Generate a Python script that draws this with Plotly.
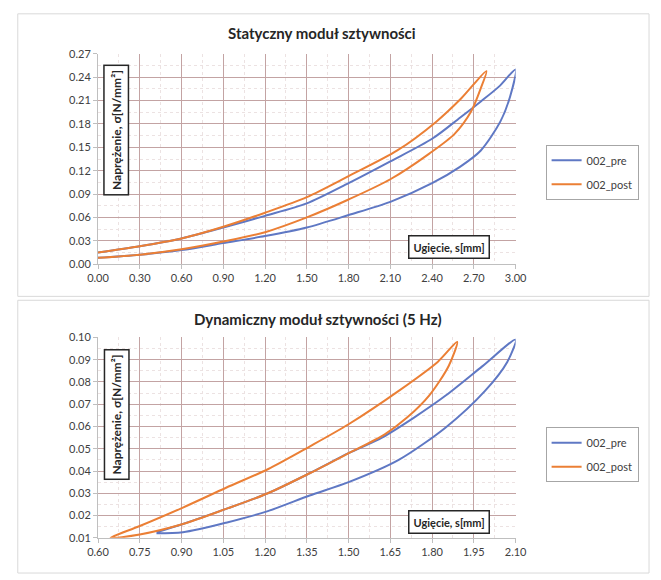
import plotly.graph_objects as go

# ---------------- data ----------------
# Static test (top chart): hysteresis loops, x = deflection s [mm], y = stress [N/mm2]
stat_pre_x = [0.00, 0.30, 0.60, 0.90, 1.20, 1.50, 1.80, 2.10, 2.40, 2.60, 2.75, 2.89, 2.96, 3.00,
              2.88, 2.75, 2.60, 2.40, 2.10, 1.80, 1.50, 1.20, 0.90, 0.60, 0.30, 0.00]
stat_pre_y = [0.008, 0.012, 0.018, 0.027, 0.036, 0.047, 0.063, 0.080, 0.104, 0.125, 0.146, 0.183, 0.215, 0.250,
              0.228, 0.209, 0.188, 0.161, 0.132, 0.104, 0.078, 0.062, 0.047, 0.033, 0.023, 0.015]

stat_post_x = [0.00, 0.30, 0.60, 0.90, 1.20, 1.50, 1.80, 2.10, 2.38, 2.56, 2.68, 2.75, 2.79,
               2.61, 2.43, 2.15, 1.80, 1.50, 1.20, 0.90, 0.60, 0.30, 0.00]
stat_post_y = [0.008, 0.012, 0.019, 0.029, 0.041, 0.060, 0.083, 0.109, 0.142, 0.167, 0.196, 0.226, 0.248,
               0.213, 0.183, 0.146, 0.113, 0.086, 0.066, 0.048, 0.033, 0.023, 0.015]

# Dynamic test 5 Hz (bottom chart)
dyn_pre_x = [0.81, 0.905, 1.06, 1.21, 1.36, 1.50, 1.68, 1.85, 1.99, 2.07, 2.10,
             1.98, 1.85, 1.735, 1.62, 1.50, 1.36, 1.21, 1.06, 0.905, 0.81]
dyn_pre_y = [0.012, 0.0125, 0.0168, 0.022, 0.029, 0.035, 0.045, 0.0597, 0.076, 0.089, 0.099,
             0.087, 0.074, 0.064, 0.055, 0.048, 0.039, 0.030, 0.023, 0.0162, 0.0125]

dyn_post_x = [0.645, 0.75, 0.905, 1.06, 1.21, 1.36, 1.50, 1.68, 1.82, 1.89,
              1.86, 1.79, 1.71, 1.63, 1.50, 1.36, 1.21, 1.06, 0.905, 0.75, 0.645]
dyn_post_y = [0.010, 0.0153, 0.0236, 0.0325, 0.0408, 0.051, 0.061, 0.076, 0.089, 0.098,
              0.0873, 0.074, 0.064, 0.0565, 0.048, 0.039, 0.030, 0.023, 0.0162, 0.0115, 0.010]

series_names = ["002_pre", "002_post"]
titles = ["Statyczny moduł sztywności", "Dynamiczny moduł sztywności (5 Hz)"]
y_label = "Naprężenie, σ[N/mm²]"
x_label = "Ugięcie, s[mm]"

# ---------------- styling ----------------
W, H = 661, 580
BLUE = "#5f78c4"
ORANGE = "#eb7f35"
GRID = "#c3a3a3"
MINOR = "#ece2e2"
FONT = "Lato"
TICKC = "#404040"


def px(x):
    return x / W


def py(y):
    return 1 - y / H


fig = go.Figure()

fig.add_trace(go.Scatter(x=stat_pre_x, y=stat_pre_y, name=series_names[0], mode="lines",
                         line=dict(color=BLUE, width=2, shape="spline", smoothing=0.8),
                         xaxis="x", yaxis="y", legend="legend", legendgroup="a"))
fig.add_trace(go.Scatter(x=stat_post_x, y=stat_post_y, name=series_names[1], mode="lines",
                         line=dict(color=ORANGE, width=2, shape="spline", smoothing=0.8),
                         xaxis="x", yaxis="y", legend="legend", legendgroup="b"))
fig.add_trace(go.Scatter(x=dyn_pre_x, y=dyn_pre_y, name=series_names[0], mode="lines",
                         line=dict(color=BLUE, width=2, shape="spline", smoothing=0.8),
                         xaxis="x2", yaxis="y2", legend="legend2", legendgroup="c"))
fig.add_trace(go.Scatter(x=dyn_post_x, y=dyn_post_y, name=series_names[1], mode="lines",
                         line=dict(color=ORANGE, width=2, shape="spline", smoothing=0.8),
                         xaxis="x2", yaxis="y2", legend="legend2", legendgroup="d"))

axis_common = dict(showgrid=True, gridcolor=GRID, gridwidth=1, zeroline=False,
                   showline=True, linecolor="#bfbfbf", linewidth=1,
                   ticks="outside", ticklen=4, tickcolor="#bfbfbf",
                   tickfont=dict(family=FONT, size=11, color=TICKC),
                   tickformat=".2f", mirror=False)

fig.update_layout(
    width=W, height=H, margin=dict(l=0, r=0, t=0, b=0),
    paper_bgcolor="white", plot_bgcolor="white",
    font=dict(family=FONT, color=TICKC),
    xaxis=dict(domain=[px(90), px(522)], range=[0, 3.0], dtick=0.3, tick0=0,
               anchor="y", minor=dict(dtick=0.15, showgrid=True, gridcolor=MINOR, griddash="dot"),
               **axis_common),
    yaxis=dict(domain=[py(263), py(48)], range=[0, 0.27], dtick=0.03, tick0=0,
               anchor="x", minor=dict(dtick=0.015, showgrid=True, gridcolor=MINOR, griddash="dot"),
               **axis_common),
    xaxis2=dict(domain=[px(90), px(522)], range=[0.6, 2.1], dtick=0.15, tick0=0.6,
                anchor="y2", minor=dict(dtick=0.075, showgrid=True, gridcolor=MINOR, griddash="dot"),
                **axis_common),
    yaxis2=dict(domain=[py(543), py(338)], range=[0.01, 0.10], dtick=0.01, tick0=0.01,
                anchor="x2", minor=dict(dtick=0.005, showgrid=True, gridcolor=MINOR, griddash="dot"),
                **axis_common),
    legend=dict(x=px(553), y=py(141), xanchor="left", yanchor="top",
                bordercolor="#a6a6a6", borderwidth=1, bgcolor="white",
                font=dict(family=FONT, size=11, color=TICKC), tracegroupgap=5,
                itemwidth=30),
    legend2=dict(x=px(553), y=py(430), xanchor="left", yanchor="top",
                 bordercolor="#a6a6a6", borderwidth=1, bgcolor="white",
                 font=dict(family=FONT, size=11, color=TICKC), tracegroupgap=5,
                 itemwidth=30),
)

# outer chart frames
fig.add_shape(type="rect", xref="paper", yref="paper", x0=px(7), x1=px(660), y0=py(296), y1=py(7),
              line=dict(color="#d9d9d9", width=1), layer="below")
fig.add_shape(type="rect", xref="paper", yref="paper", x0=px(7), x1=px(660), y0=py(579), y1=py(300),
              line=dict(color="#d9d9d9", width=1), layer="below")

# titles
fig.add_annotation(text="<b>" + titles[0] + "</b>", xref="paper", yref="paper",
                   x=px(322), y=py(27), showarrow=False, xanchor="center", yanchor="middle",
                   font=dict(family=FONT, size=15, color="#262626"))
fig.add_annotation(text="<b>" + titles[1] + "</b>", xref="paper", yref="paper",
                   x=px(318), y=py(319), showarrow=False, xanchor="center", yanchor="middle",
                   font=dict(family=FONT, size=15, color="#262626"))

# boxed axis labels inside the plots
for yc in (126, 417):
    fig.add_annotation(text="<b>" + y_label + "</b>", xref="paper", yref="paper", x=px(109), y=py(yc),
                       showarrow=False, textangle=-90, xanchor="center", yanchor="middle",
                       font=dict(family=FONT, size=12, color="#262626"),
                       bordercolor="#262626", borderwidth=1.5, borderpad=4, bgcolor="white")
for yc in (246, 527):
    fig.add_annotation(text="<b>" + x_label + "</b>", xref="paper", yref="paper", x=px(453), y=py(yc),
                       showarrow=False, xanchor="center", yanchor="middle",
                       font=dict(family=FONT, size=11, color="#262626"),
                       bordercolor="#262626", borderwidth=1.5, borderpad=4, bgcolor="white")

fig.write_html("out.html")
